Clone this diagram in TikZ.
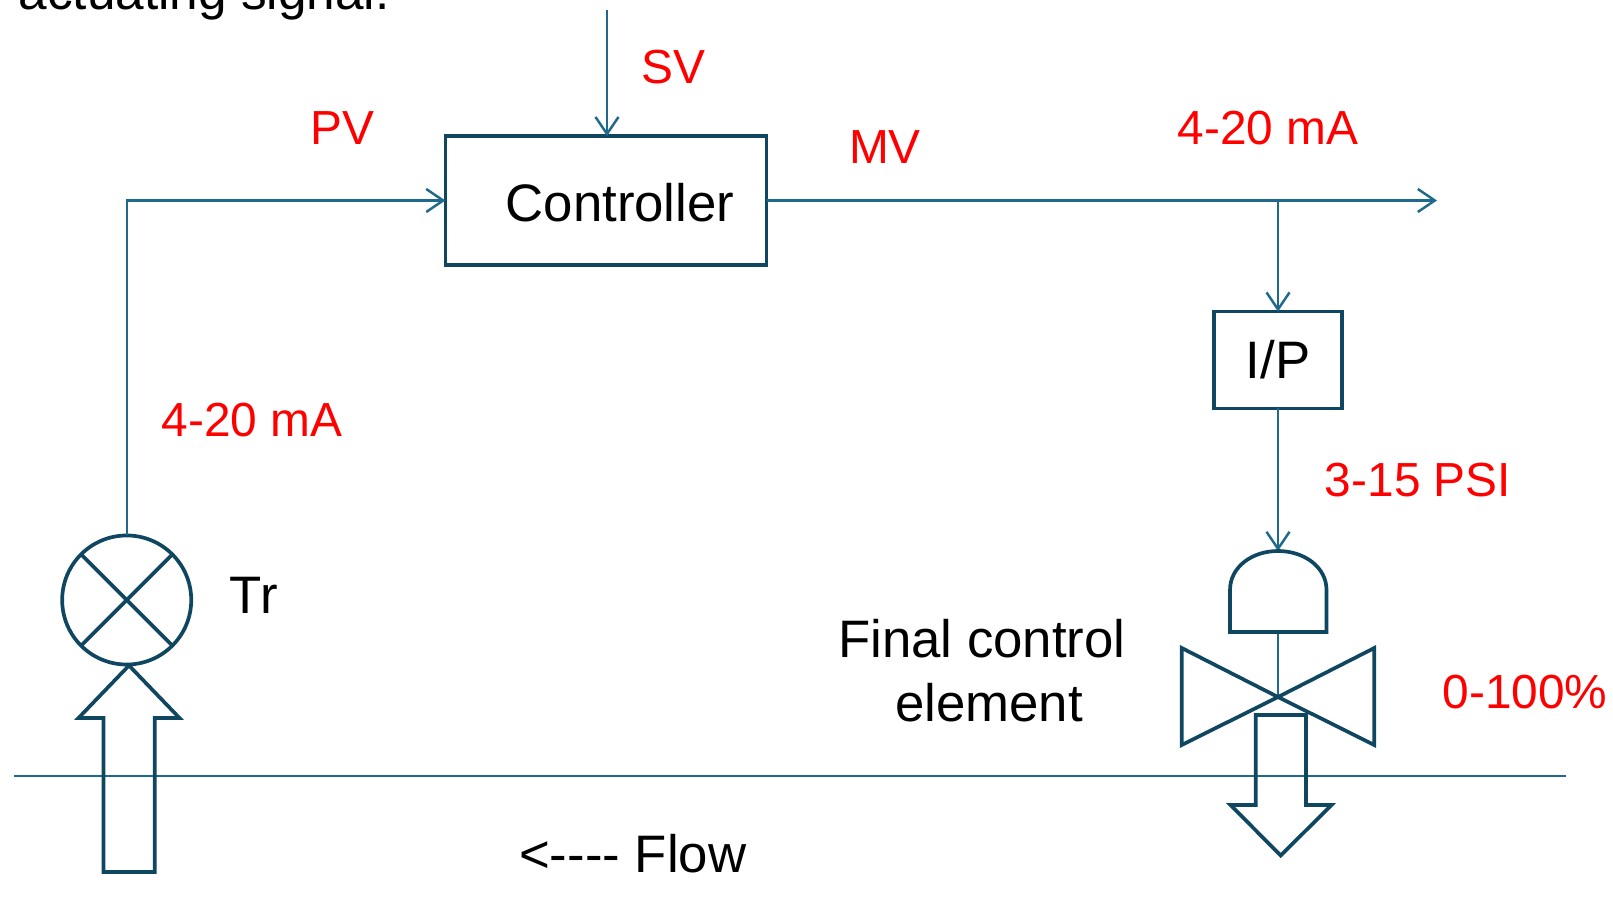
\documentclass[tikz,border=0pt]{standalone}
\usepackage{fontspec}
\setmainfont{Liberation Sans}
\usetikzlibrary{arrows.meta}
\usetikzlibrary{positioning}
\definecolor{boxblue}{HTML}{0F4761}
\definecolor{lineblue}{HTML}{1F6A8C}
\tikzset{%
  myblock/.style={rectangle,draw=boxblue,line width=1.05pt,inner sep=0pt,outer sep=0pt,font=\fontsize{15}{18}\selectfont},
  mysymbol/.style={draw=boxblue,line width=1.05pt,line join=miter},
  mysignal/.style={draw=lineblue,line width=0.65pt},
  mysignalarrow/.style={mysignal,-{Straight Barb[length=1.7mm,width=2.3mm,line width=0.7pt]}},
  myvalue/.style={text=red,inner sep=0pt,font=\fontsize{13.6}{16}\selectfont},
  mytag/.style={text=black,inner sep=0pt,font=\fontsize{15}{18.2}\selectfont,align=center}
}
\begin{document}
\begin{tikzpicture}[x=0.01cm,y=-0.01cm]
    \useasboundingbox (0,0) rectangle (1613,919);
    \node[anchor=base west,inner sep=0pt,font=\fontsize{14.6}{17}\selectfont] (cutline) at (18,10) {actuating signal.};

    \node[myblock,minimum width=3.21cm,minimum height=1.286cm] (controller) at (606,200.5) {\hspace*{0.28cm}\raisebox{-0.5pt}[\height][\depth]{Controller}};
    \node[myblock,minimum width=1.285cm,minimum height=0.967cm] (ip) at (1278,360) {I/P};
    \node[myblock,circle,minimum size=1.29cm] (tr) at (126.7,600) {};
    \draw[mysymbol] (tr.45) -- (tr.225);
    \draw[mysymbol] (tr.135) -- (tr.315);

    \coordinate (svin) at (607,10);
    \coordinate (mvout) at (1437,200.5);
    \coordinate (flowleft) at (14,776);
    \coordinate (flowright) at (1566,776);
    \coordinate (acttop) at (1278,551);
    \coordinate (actbottom) at (1278,632);
    \coordinate (valvemid) at (1278,697);
    \coordinate (branch) at (1278,200.5);

    \draw[mysignalarrow] (svin) -- (svin |- controller.north);
    \draw[mysignalarrow] (tr.north) |- (controller.west);
    \draw[mysignalarrow] (controller.east) -- (mvout);
    \draw[mysignalarrow] (branch) -- (ip.north);
    \draw[mysignalarrow] (ip.south) -- (acttop);
    \draw[mysignal] (actbottom) -- (valvemid);
    \draw[mysignal] (flowleft) -- (flowright);

    % actuator and valve body
    \draw[mysymbol] (1230,632) -- (1230,590) .. controls (1230,567) and (1252,551) .. (acttop)
        .. controls (1304,551) and (1326.5,567) .. (1326.5,590) -- (1326.5,632) -- cycle;
    \draw[mysymbol] (valvemid) -- (1181.7,648) -- (1181.7,745) -- cycle;
    \draw[mysymbol] (valvemid) -- (1374.3,648) -- (1374.3,745) -- cycle;

    % block arrows
    \draw[mysymbol] (129,665.5) -- (179.5,718) -- (154.7,718) -- (154.7,872) -- (103.5,872) -- (103.5,718) -- (78.5,718) -- cycle;
    \draw[mysymbol] (1255.7,715) -- (1306,715) -- (1306,805) -- (1331.5,805) -- (1280.7,855.5) -- (1230.5,805) -- (1255.7,805) -- cycle;

    \node[myvalue] (svlabel) at (673,67) {SV};
    \node[myvalue] (pvlabel) at (342,128) {PV};
    \node[myvalue] (mvlabel) at (885,147) {MV};
    \node[myvalue] (mvrange) at (1268,128.5) {4-20 mA};
    \node[myvalue] (pvrange) at (252,420) {4-20 mA};
    \node[myvalue] (psirange) at (1418,480) {3-15 PSI};
    \node[myvalue] (travel) at (1525,692) {0-100\%};
    \node[mytag,right=0.38cm of tr,yshift=0.05cm] (trlabel) {Tr};
    \node[mytag] (fcelabel) at (982,671) {Final control\\\hspace*{0.14cm}element};
    \node[mytag] (flowlabel) at (632.7,854) {<{-}{-}{-}{-} Flow};
\end{tikzpicture}
\end{document}
